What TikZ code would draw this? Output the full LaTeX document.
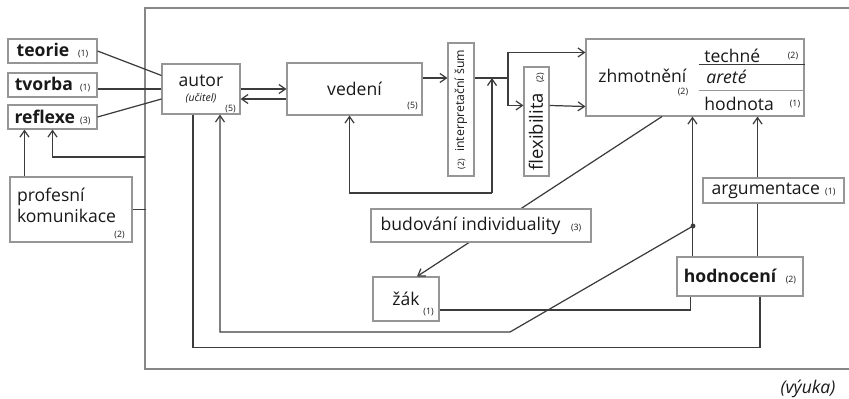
\documentclass[tikz,border=0pt]{standalone}
\usepackage{fontspec}
\setmainfont{Open Sans}
\usetikzlibrary{arrows.meta, positioning, calc}
\definecolor{lineGray}{RGB}{60,60,60}
\definecolor{boxGray}{RGB}{150,150,150}
\definecolor{frameGray}{RGB}{135,135,135}
\definecolor{textDark}{RGB}{25,25,25}
\newdimen\pxu \pxu=0.02cm
\newcommand{\numlab}[1]{{\fontsize{5}{6}\selectfont #1}}
\tikzset{
  box/.style={draw=boxGray, fill=white, line width=0.6pt, inner sep=0pt, text=textDark, font=\fontsize{10}{12}\selectfont},
  num/.style={font=\fontsize{5}{6}\selectfont, inner sep=0pt, text=textDark},
  lbl/.style={font=\fontsize{10}{12}\selectfont, inner sep=0pt, text=textDark},
  conn/.style={lineGray, line width=0.7pt},
  arr/.style={conn, -{Straight Barb[length=1.3mm,width=1.8mm]}},
}

\begin{document}
\begin{tikzpicture}[x=0.02cm, y=-0.02cm]
        \useasboundingbox (0,0) rectangle (849,399);
        % outer frame (vyuka)
        \draw[frameGray, line width=0.7pt] (852,8) -- (145,8) -- (145,369) -- (852,369);
        \node[lbl, font=\fontsize{10}{12}\selectfont\itshape] (vyuka) at (808,389) {(výuka)};

        % left column
        \node[box, minimum width=89\pxu, minimum height=24\pxu] (teorie) at (52.5,51) {\textbf{teorie}\hspace{5pt}\numlab{(1)}};
        \node[box, minimum width=89\pxu, minimum height=24\pxu] (tvorba) at (52.5,85) {\textbf{tvorba}\hspace{4pt}\numlab{(1)}};
        \node[box, minimum width=89\pxu, minimum height=24\pxu] (reflexe) at (52.5,117) {\textbf{reflexe}\hspace{3pt}\numlab{(3)}};
        \node[box, minimum width=122\pxu, minimum height=65\pxu, text width=108\pxu, align=left] (prof) at (71,209.5) {profesní\\komunikace\\[-7pt]\mbox{}};
        \node[num] (profN) at ($(prof.south east)+(-13,-8)$) {(2)};

        % main row
        \node[box, minimum width=78\pxu, minimum height=50\pxu, align=center] (autor) at (201,89) {autor\\[-3pt]{\fontsize{6}{7}\selectfont\itshape (učitel)}};
        \node[num] (autorN) at ($(autor.south east)+(-10,-5)$) {(5)};
        \node[box, minimum width=135\pxu, minimum height=52\pxu] (vedeni) at (354.5,89) {vedení};
        \node[num] (vedeniN) at ($(vedeni.south east)+(-10,-9)$) {(5)};
        \node[box, minimum width=26\pxu, minimum height=133\pxu, font=\fontsize{7}{8}\selectfont] (sum) at (461,109.5) {\rotatebox{90}{\numlab{(2)}\hspace{4pt}interpretační šum}};
        \node[box, minimum width=25\pxu, minimum height=109\pxu, font=\fontsize{10.5}{12}\selectfont] (flex) at (536.5,121.5) {\rotatebox{90}{flexibilita\hspace{6pt}\numlab{(2)}}};

        % zhmotneni
        \node[box, minimum width=218\pxu, minimum height=77\pxu] (zhm) at (695,77.5) {};
        \node[lbl, anchor=base west] (zhmT) at (598,82) {zhmotnění};
        \node[num] (zhmN) at (683,92) {(2)};
        \draw[lineGray, line width=0.7pt] ($(zhm.north east)+(-106,26)$) -- ($(zhm.north east)+(0,26)$);
        \draw[boxGray, line width=0.6pt] ($(zhm.north east)+(-106,52)$) -- ($(zhm.north east)+(0,52)$);
        \node[lbl, anchor=base west] (techne) at (704,62) {techné};
        \node[num] (techneN) at (793,56) {(2)};
        \node[lbl, anchor=base west, font=\fontsize{10}{12}\selectfont\itshape] (arete) at (706,83) {areté};
        \node[lbl, anchor=base west] (hodnota) at (704,110) {hodnota};
        \node[num] (hodnotaN) at (795,104) {(1)};

        % lower part
        \node[box, minimum width=66\pxu, minimum height=44\pxu] (zak) at (406,299) {žák};
        \node[num] (zakN) at ($(zak.south east)+(-11,-9)$) {(1)};
        \draw[arr] ($(zhm.south)+(-33,0)$) -- ($(zak.north)+(11,0)$);
        \node[box, minimum width=220\pxu, minimum height=33\pxu] (budovani) at (481,225.5) {budování individuality\hspace{6pt}\numlab{(3)}};
        \node[box, minimum width=141\pxu, minimum height=25\pxu] (arg) at (773.5,190.5) {argumentace\hspace{3pt}\numlab{(1)}};
        \node[box, minimum width=126\pxu, minimum height=39\pxu] (hod) at (740,276.5) {\textbf{hodnocení}\hspace{5pt}\numlab{(2)}};

        % connectors left
        \draw[conn] (teorie.east) -- ($(autor.north west)+(0,12)$);
        \draw[conn] (autor.west -| tvorba.east) -- (autor.west);
        \draw[conn] (reflexe.east) -- ($(autor.west)+(0,10)$);
        \coordinate (frameL) at (145,157);
        \draw[arr] (frameL) -| (reflexe.south);
        \coordinate (profT) at ($(prof.north west)+(15,0)$);
        \draw[arr] (profT) -- (profT |- reflexe.south);
        \draw[conn] (prof.east) -- ++(13,0);

        % connectors main row
        \draw[arr] (autor.east) -- (vedeni.west);
        \draw[arr] ($(vedeni.west)+(0,10)$) -- ($(autor.east)+(0,10)$);
        \draw[arr] ($(vedeni.east)+(0,-11)$) -- ($(sum.west)+(0,-31.5)$);
        \coordinate (split) at (508,78);
        \draw[conn] ($(sum.east)+(0,-31.5)$) -- (split);
        \draw[arr] (split) |- ($(zhm.north west)+(0,14)$);
        \draw[arr] (split) |- ($(flex.north west)+(0,39)$);
        \draw[arr] ($(flex.north east)+(0,39)$) -- ($(zhm.south west)+(0,-10)$);
        \coordinate (fbk) at (492,193);
        \draw[arr] (fbk) -- (fbk |- split);
        \draw[arr] (fbk) -| ($(vedeni.south)+(-5,0)$);

        % connectors lower part
        \draw[conn] ($(zak.east)+(0,11)$) -| ($(hod.south west)+(14,0)$);
        \coordinate (hx) at ($(hod.north west)+(16,0)$);
        \draw[arr] (hx) -- (hx |- zhm.south);
        \coordinate (dot) at (693,226);
        \fill[lineGray] (dot) circle (1.4pt);
        \draw[arr] (dot) -- (510,332) -| ($(autor.south)+(19,0)$);
        \draw[conn] ($(hod.south)+(20,0)$) -- ++(0,51) -| ($(autor.south)+(-8,0)$);
        \coordinate (ax) at ($(arg.south)+(-16,0)$);
        \draw[conn] (ax) -- (ax |- hod.north);
        \coordinate (ay) at ($(arg.north)+(-16,0)$);
        \draw[arr] (ay) -- (ay |- zhm.south);
      \end{tikzpicture}
\end{document}
